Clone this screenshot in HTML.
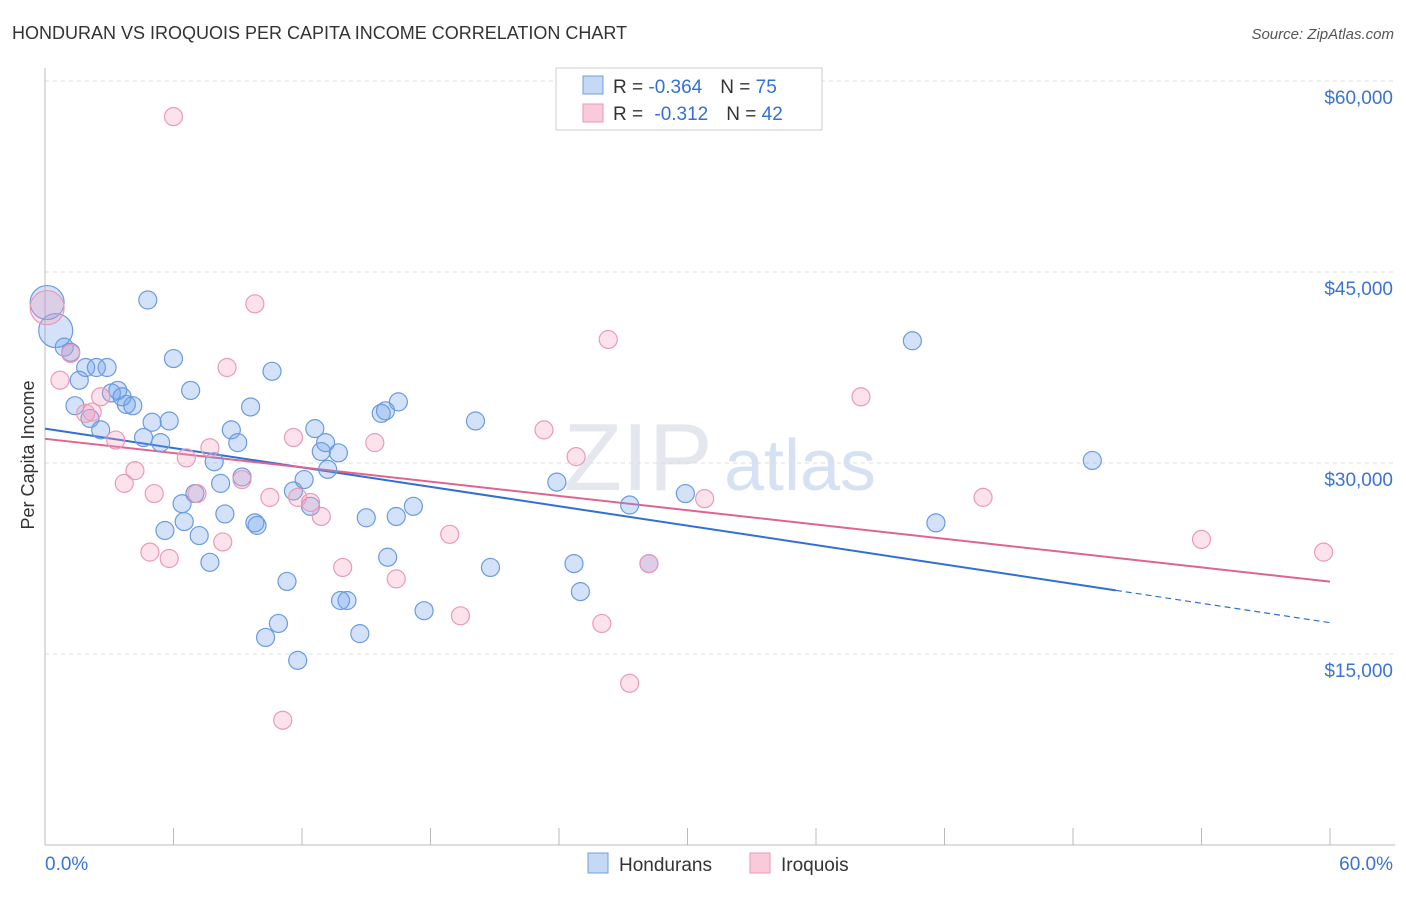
<!DOCTYPE html>
<html><head><meta charset="utf-8">
<style>
body{margin:0;background:#fff;font-family:"Liberation Sans",sans-serif;}
svg text{font-family:"Liberation Sans",sans-serif;}
</style></head>
<body>
<svg id="chart" width="1406" height="892" viewBox="0 0 1406 892" xmlns="http://www.w3.org/2000/svg">
<text x="12" y="39" font-size="18" fill="#333">HONDURAN VS IROQUOIS PER CAPITA INCOME CORRELATION CHART</text>
<text x="1394" y="39" font-size="15" fill="#555" font-style="italic" text-anchor="end">Source: ZipAtlas.com</text>
<text x="638" y="490" font-size="96" fill="#e4e8ee" font-family="Liberation Serif" text-anchor="middle">ZIP</text>
<text x="800" y="490" font-size="72" fill="#d6e2f4" text-anchor="middle">atlas</text>
<g id="grid"></g>
<g id="axes"></g>
<g id="trend"></g>
<g id="points"></g>
<text transform="translate(34,455) rotate(-90)" font-size="18" fill="#333" text-anchor="middle">Per Capita Income</text>
<g>
<rect x="556" y="68" width="266" height="62" fill="#fff" stroke="#ccc"/>
<rect x="583" y="76" width="20" height="18" fill="#c5d9f5" stroke="#6f9ee0"/>
<rect x="583" y="104" width="20" height="18" fill="#f9cad9" stroke="#e899b3"/>
<text x="613" y="93" font-size="19" fill="#333">R = <tspan fill="#3370d6">-0.364</tspan><tspan dx="18">N = </tspan><tspan fill="#3370d6">75</tspan></text>
<text x="613" y="120" font-size="19" fill="#333">R = <tspan dx="6" fill="#3370d6">-0.312</tspan><tspan dx="18">N = </tspan><tspan fill="#3370d6">42</tspan></text>
</g>
<g>
<rect x="588" y="853" width="20" height="20" fill="#c5d9f5" stroke="#6f9ee0"/>
<text x="619" y="871" font-size="19" fill="#333">Hondurans</text>
<rect x="750" y="853" width="20" height="20" fill="#f9cad9" stroke="#e899b3"/>
<text x="781" y="871" font-size="19" fill="#333">Iroquois</text>
</g>
</svg>
<script>
const blueX=[0.1,0.5,0.9,1.2,1.6,1.9,2.4,2.9,1.4,2.1,2.6,3.1,3.4,3.6,3.8,4.1,4.6,4.8,5.0,5.4,5.6,5.8,6.0,6.4,6.5,6.8,7.0,7.2,7.7,7.9,8.2,8.4,8.7,9.0,9.2,9.6,9.8,9.9,10.6,10.9,10.3,11.3,11.6,11.8,12.1,12.4,12.6,12.9,13.1,13.2,13.7,13.8,14.1,14.7,15.0,15.7,15.9,16.0,16.4,16.5,17.2,17.7,20.1,20.8,23.9,24.7,25.0,27.3,28.2,29.9,40.5,41.6,48.9];
const blueY=[42600,40400,39100,38700,36500,37500,37500,37500,34500,33500,32600,35500,35700,35200,34600,34500,32000,42800,33200,31600,24700,33300,38200,26800,25400,35700,27600,24300,22200,30100,28400,26000,32600,31600,28900,34400,25300,25100,37200,17400,16300,20700,27800,14500,28700,26600,32700,30900,31600,29500,30800,19200,19200,16600,25700,33900,34100,22600,25800,34800,26600,18400,33300,21800,28500,22100,19900,26700,22100,27600,39600,25300,30200];
const blueBig=[1,1];
const pinkX=[0.1,1.2,0.7,1.9,2.2,2.6,3.3,3.7,4.2,4.9,5.1,5.8,6.0,6.6,7.1,7.7,8.3,8.5,9.2,9.8,10.5,11.6,11.8,12.4,12.9,13.9,15.4,16.4,18.9,19.4,23.3,24.8,26.0,26.3,27.3,28.2,30.8,38.1,43.8,54.0,59.7,11.1];
const pinkY=[42200,38600,36500,33900,34000,35200,31800,28400,29400,23000,27600,22500,57200,30400,27600,31200,23800,37500,28700,42500,27300,32000,27300,26900,25800,21800,31600,20900,24400,18000,32600,30500,17400,39700,12700,22100,27200,35200,27300,24000,23000,9800];
const blueTrend=[32700,-254]; // intercept, slope per %
const pinkTrend=[31900,-187];
const yTicks=[15000,30000,45000,60000];
const yTickLabels=["$15,000","$30,000","$45,000","$60,000"];
const xTickCount=11;

const NS="http://www.w3.org/2000/svg";
const sx=v=>45+v/60*1285;
const sy=v=>654-(v-15000)*191/15000;
function mk(tag,attrs,parent){const e=document.createElementNS(NS,tag);for(const k in attrs)e.setAttribute(k,attrs[k]);document.getElementById(parent).appendChild(e);return e;}

yTicks.forEach((t,i)=>{
  const g=mk('line',{x1:45,x2:1395,y1:sy(t),y2:sy(t),stroke:'#ddd','stroke-dasharray':'4,4'},'grid');
  
  
  const l=mk('text',{x:1393,y:sy(t)+23,'font-size':19,fill:'#3b73d4','text-anchor':'end'},'grid');
  l.textContent=yTickLabels[i];
  
  
});
const ax=mk('line',{x1:45,x2:45,y1:68,y2:845,stroke:'#bbb'},'axes');


const bx=mk('line',{x1:45,x2:1395,y1:845,y2:845,stroke:'#bbb'},'axes');


for(let i=0;i<xTickCount;i++){
  const v=i*6;
  const t=mk('line',{x1:sx(v),x2:sx(v),y1:828,y2:845,stroke:'#bbb'},'axes');
  
  
}
const xl0=mk('text',{x:45,y:870,'font-size':19,fill:'#3b73d4'},'axes');xl0.textContent='0.0%';


const xl1=mk('text',{x:1393,y:870,'font-size':19,fill:'#3b73d4','text-anchor':'end'},'axes');xl1.textContent='60.0%';



blueX.forEach((x,i)=>{
  const r=i<blueBig.length?17:9;
  const c=mk('circle',{cx:sx(x),cy:sy(blueY[i]),r:r,fill:'rgba(110,160,235,0.3)',stroke:'#6a9be0','stroke-width':1.2},'points');
  
  
});
pinkX.forEach((x,i)=>{
  const r=i===0?17:9;
  const c=mk('circle',{cx:sx(x),cy:sy(pinkY[i]),r:r,fill:'rgba(245,160,190,0.3)',stroke:'#eb9ab6','stroke-width':1.2},'points');
  
  
});
const bt=v=>blueTrend[0]+blueTrend[1]*v, pt=v=>pinkTrend[0]+pinkTrend[1]*v;
const l1=mk('line',{x1:sx(0),y1:sy(bt(0)),x2:sx(50),y2:sy(bt(50)),stroke:'#2f6fd6','stroke-width':2},'trend');


const l2=mk('line',{x1:sx(50),y1:sy(bt(50)),x2:sx(60),y2:sy(bt(60)),stroke:'#2f6fd6','stroke-width':1.2,'stroke-dasharray':'6,4'},'trend');


const l3=mk('line',{x1:sx(0),y1:sy(pt(0)),x2:sx(60),y2:sy(pt(60)),stroke:'#e0648e','stroke-width':2},'trend');


</script>
</body></html>
